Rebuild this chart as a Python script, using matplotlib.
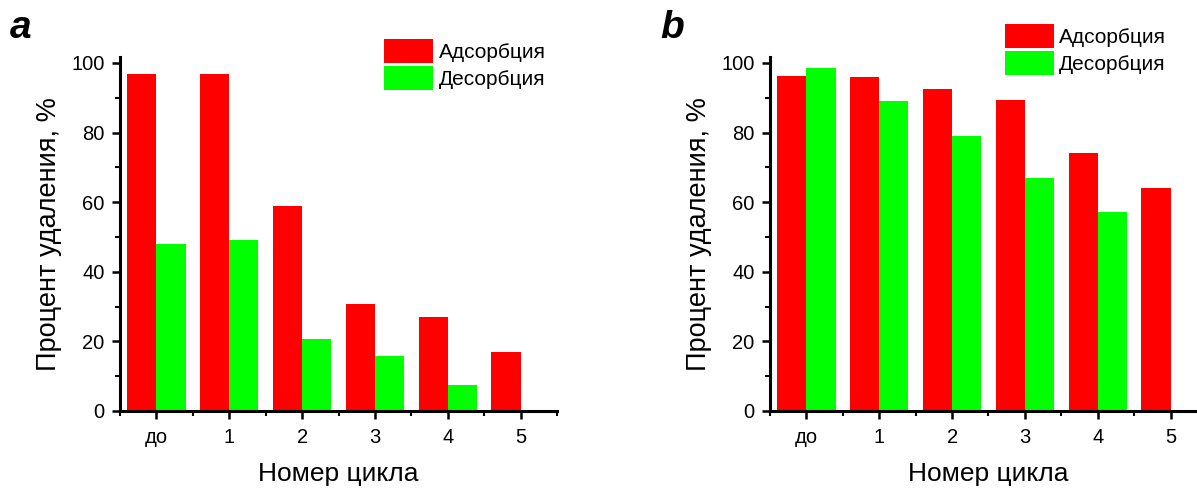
import numpy as np
import matplotlib
matplotlib.use('Agg')
from matplotlib import pyplot as plt
from matplotlib.ticker import MultipleLocator

plt.rcParams['font.family'] = ['Liberation Sans', 'DejaVu Sans']

cycles = ['до', '1', '2', '3', '4', '5']
series_names = ['Адсорбция', 'Десорбция']

ads_a = [96.9, 96.9, 58.8, 30.8, 27.0, 17.0]
des_a = [48.1, 49.1, 20.7, 15.9, 7.4, 0]

ads_b = [96.1, 95.9, 92.5, 89.3, 74.2, 64.1]
des_b = [98.6, 89.2, 78.9, 67.0, 57.2, 0]

red = '#ff0000'
green = '#00ff00'


def draw_panel(ax, ads, des, letter, leg_xy):
    x = np.arange(len(cycles))
    w = 0.40
    ax.bar(x - w / 2, ads, w, color=red, label=series_names[0], linewidth=0)
    ax.bar(x + w / 2, des, w, color=green, label=series_names[1], linewidth=0)
    ax.set_xlim(-0.5, 5.5)
    ax.set_ylim(0, 101.7)
    ax.set_xticks(x)
    ax.set_xticklabels(cycles)
    ax.xaxis.set_minor_locator(MultipleLocator(0.5))
    ax.yaxis.set_major_locator(MultipleLocator(20))
    ax.yaxis.set_minor_locator(MultipleLocator(10))
    for s in ['top', 'right']:
        ax.spines[s].set_visible(False)
    for s in ['left', 'bottom']:
        ax.spines[s].set_linewidth(2.2)
    ax.tick_params(which='major', direction='out', length=6, width=1.8, labelsize=14.5, pad=5)
    ax.tick_params(which='minor', direction='out', length=3.5, width=1.5)
    ax.tick_params(axis='x', which='major', pad=6)
    ax.set_xlabel('Номер цикла', fontsize=19, labelpad=11)
    ax.set_ylabel('Процент удаления, %', fontsize=19.5, labelpad=7)
    ax.legend(loc='upper left', bbox_to_anchor=leg_xy, frameon=False, fontsize=15,
              borderaxespad=0, borderpad=0, handlelength=2.35, handleheight=1.4,
              handletextpad=0.25, labelspacing=0.15)
    ax.text(-0.252, 1.054, letter, transform=ax.transAxes, fontsize=28,
            fontweight='bold', fontstyle='italic', va='baseline', ha='left')


fig = plt.figure(figsize=(11.97, 4.88), dpi=100)
ax1 = fig.add_axes([120 / 1197, 77 / 488, 437 / 1197, 354 / 488])
ax2 = fig.add_axes([770 / 1197, 77 / 488, 437 / 1197, 354 / 488])

draw_panel(ax1, ads_a, des_a, 'a', (0.605, 1.051))
draw_panel(ax2, ads_b, des_b, 'b', (0.538, 1.093))

fig.savefig('out.png', dpi=100)
